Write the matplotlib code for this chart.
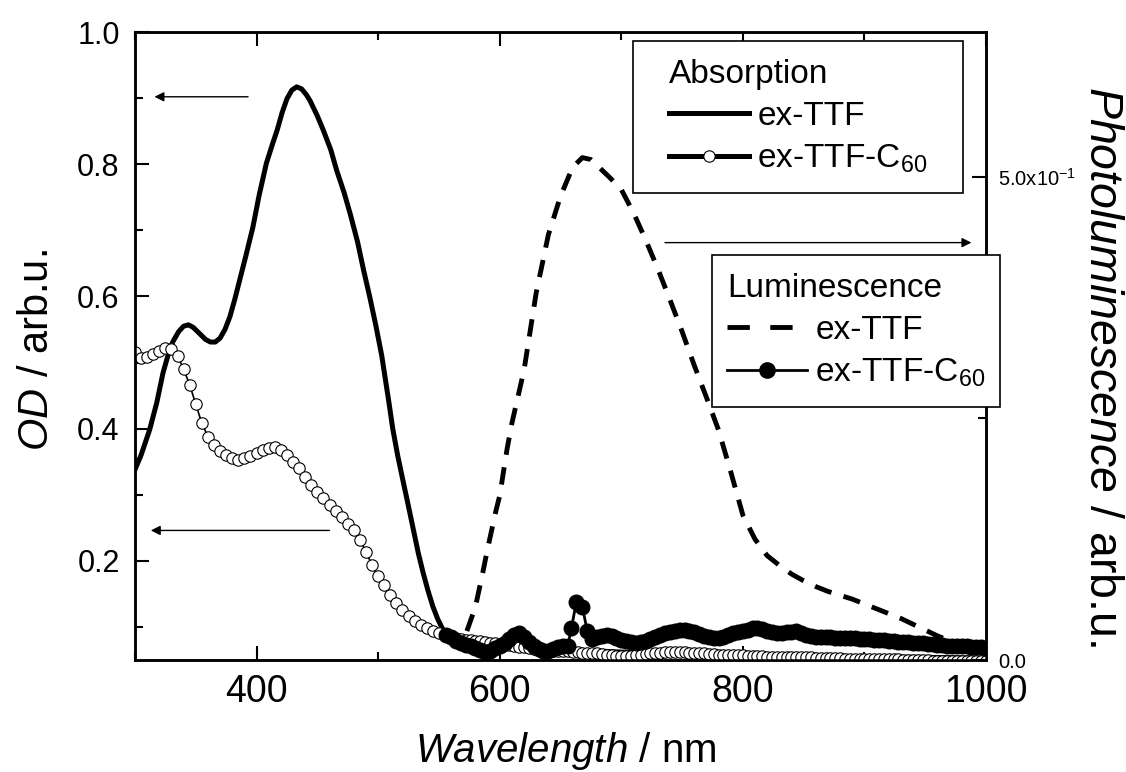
import numpy as np
import matplotlib
matplotlib.use("Agg")
import matplotlib.pyplot as plt
from matplotlib.lines import Line2D
from matplotlib.patches import Rectangle
from matplotlib import font_manager as fm
from matplotlib.ticker import MultipleLocator, FixedLocator, FuncFormatter

# ---- data ----
# absorption, ex-TTF (solid line, left axis)
abs_ttf_wl = [300, 305, 312, 318, 323, 327, 331, 336, 340, 344, 348, 353, 358, 362, 366,
              370, 374, 378, 382, 386, 391, 397, 402, 408, 413, 417, 421, 425, 429, 433,
              437, 441, 444, 450, 455, 461, 466, 472, 477, 483, 488, 493, 498, 503, 506,
              509, 512, 516, 520, 525, 529, 533, 537, 541, 545, 549, 553, 559, 570, 600,
              650, 700, 800, 900, 1000]
abs_ttf_od = [0.338, 0.360, 0.398, 0.440, 0.484, 0.510, 0.531, 0.547, 0.555, 0.557, 0.553,
              0.544, 0.535, 0.531, 0.531, 0.537, 0.550, 0.569, 0.595, 0.624, 0.660, 0.705,
              0.752, 0.801, 0.830, 0.852, 0.878, 0.899, 0.912, 0.917, 0.914, 0.905, 0.896,
              0.873, 0.851, 0.822, 0.790, 0.757, 0.725, 0.683, 0.640, 0.600, 0.557, 0.510,
              0.474, 0.438, 0.400, 0.360, 0.325, 0.282, 0.247, 0.212, 0.182, 0.155, 0.131,
              0.112, 0.097, 0.086, 0.079, 0.072, 0.066, 0.062, 0.058, 0.055, 0.053]

# absorption, ex-TTF-C60 (open circles, left axis)
abs_c60_wl = np.concatenate([np.arange(300, 561, 5), np.arange(564, 1001, 4)])
abs_c60_od = [0.516, 0.507, 0.508, 0.513, 0.518, 0.522, 0.520, 0.510, 0.490, 0.466,
              0.437, 0.408, 0.388, 0.375, 0.366, 0.360, 0.355, 0.353, 0.355, 0.358,
              0.363, 0.368, 0.371, 0.372, 0.368, 0.360, 0.350, 0.340, 0.327, 0.314,
              0.304, 0.295, 0.285, 0.276, 0.267, 0.256, 0.246, 0.232, 0.214, 0.193,
              0.177, 0.163, 0.148, 0.136, 0.125, 0.117, 0.109, 0.103, 0.098, 0.094,
              0.091, 0.088, 0.086,
              0.084, 0.082, 0.081, 0.080, 0.079, 0.078, 0.077, 0.076, 0.075, 0.074,
              0.073, 0.072, 0.071, 0.070, 0.069, 0.068, 0.067, 0.066, 0.066, 0.065,
              0.064, 0.064, 0.063, 0.063, 0.062, 0.062, 0.061, 0.061, 0.060, 0.060,
              0.059, 0.058, 0.057, 0.056, 0.056, 0.056, 0.056, 0.057, 0.058, 0.059,
              0.060, 0.061, 0.061, 0.062, 0.062, 0.062, 0.062, 0.062, 0.061, 0.061,
              0.060, 0.060, 0.059, 0.059, 0.058, 0.058, 0.058, 0.057, 0.057, 0.057,
              0.056, 0.056, 0.056, 0.056, 0.055, 0.055, 0.055, 0.055, 0.055, 0.054,
              0.054, 0.054, 0.054, 0.054, 0.053, 0.053, 0.053, 0.053, 0.053, 0.053,
              0.052, 0.052, 0.052, 0.052, 0.052, 0.052, 0.051, 0.051, 0.051, 0.051,
              0.051, 0.051, 0.050, 0.050, 0.050, 0.050, 0.050, 0.050, 0.049, 0.049,
              0.049, 0.049, 0.049, 0.049, 0.048, 0.048, 0.048, 0.048, 0.048, 0.048]

# luminescence, ex-TTF (dashed, right axis)
pl_ttf_wl = [573, 580, 586, 590, 597, 600, 606, 610, 620, 630, 640, 650, 660, 668, 675,
             680, 690, 700, 710, 720, 730, 740, 750, 760, 770, 780, 790, 800, 810, 820,
             831, 840, 850, 860, 870, 880, 890, 900, 910, 920, 930, 940, 950, 960, 970,
             980, 990, 1000]
pl_ttf = [0.030, 0.055, 0.090, 0.115, 0.155, 0.170, 0.218, 0.245, 0.300, 0.380, 0.440,
          0.480, 0.510, 0.520, 0.518, 0.512, 0.500, 0.487, 0.463, 0.435, 0.405, 0.373,
          0.340, 0.305, 0.272, 0.238, 0.195, 0.150, 0.125, 0.108, 0.097, 0.089, 0.082,
          0.076, 0.071, 0.067, 0.063, 0.058, 0.053, 0.048, 0.043, 0.037, 0.031, 0.025,
          0.020, 0.016, 0.013, 0.011]

# luminescence, ex-TTF-C60 (filled circles, right axis)
pl_c60_wl = [556, 560, 564, 568, 572, 576, 580, 584, 588, 592, 596, 600, 604, 608, 612,
             616, 620, 624, 628, 632, 636, 640, 644, 648, 652, 656, 659, 663, 668, 672,
             676, 680, 684, 688, 692, 696, 700, 704, 708, 712, 716, 720, 724, 728, 732,
             736, 740, 744, 748, 752, 756, 760, 764, 768, 772, 776, 780, 784, 788, 792,
             796, 800, 804, 808, 812, 816, 820, 824, 828, 832, 836, 840, 844, 848, 852,
             856, 860, 864, 868, 872, 876, 880, 884, 888, 892, 896, 900, 904, 908, 912,
             916, 920, 924, 928, 932, 936, 940, 944, 948, 952, 956, 960, 964, 968, 972,
             976, 980, 984, 988, 992, 996, 1000]
pl_c60 = [0.026, 0.024, 0.020, 0.018, 0.016, 0.014, 0.012, 0.010, 0.008, 0.009, 0.012,
          0.014, 0.018, 0.022, 0.026, 0.028, 0.024, 0.019, 0.015, 0.011, 0.009, 0.009,
          0.011, 0.013, 0.014, 0.015, 0.033, 0.060, 0.055, 0.030, 0.022, 0.024, 0.025,
          0.026, 0.025, 0.023, 0.021, 0.020, 0.019, 0.018, 0.019, 0.020, 0.022, 0.024,
          0.026, 0.028, 0.029, 0.030, 0.031, 0.031, 0.030, 0.029, 0.027, 0.025, 0.024,
          0.023, 0.023, 0.024, 0.026, 0.028, 0.029, 0.030, 0.031, 0.033, 0.033, 0.032,
          0.030, 0.029, 0.028, 0.028, 0.029, 0.029, 0.030, 0.028, 0.026, 0.025, 0.024,
          0.024, 0.024, 0.024, 0.023, 0.023, 0.023, 0.023, 0.023, 0.022, 0.022, 0.022,
          0.021, 0.021, 0.021, 0.020, 0.020, 0.019, 0.019, 0.019, 0.018, 0.018, 0.018,
          0.017, 0.017, 0.016, 0.016, 0.015, 0.015, 0.015, 0.014, 0.014, 0.013, 0.013,
          0.013, 0.012]

# arrows: (tail, head) in data units of the axis they point to
arrow_left_top = ((393, 0.902), (316, 0.902))
arrow_left_low = ((460, 0.246), (313, 0.246))
arrow_right = ((736, 0.432), (988, 0.432))

# ---- fonts ----
names = {f.name for f in fm.fontManager.ttflist}
NARROW = "Liberation Sans Narrow" if "Liberation Sans Narrow" in names else "Liberation Sans"
plt.rcParams["font.family"] = ["Liberation Sans", "DejaVu Sans"]
plt.rcParams["mathtext.fontset"] = "custom"
plt.rcParams["mathtext.rm"] = "Liberation Sans"
plt.rcParams["mathtext.it"] = NARROW + ":italic"
plt.rcParams["mathtext.default"] = "regular"

W, H = 1126, 772
fig = plt.figure(figsize=(W / 100, H / 100), dpi=100)
ax = fig.add_axes([135 / W, 1 - 660 / H, (986 - 135) / W, (660 - 32) / H])
ax2 = ax.twinx()

DASH = (0, (3.6, 2.6))
ax.plot(abs_ttf_wl, abs_ttf_od, "-", color="black", lw=3.6, zorder=2)
ax.plot(abs_c60_wl, abs_c60_od, "-", color="black", lw=1.2, marker="o", ms=8.2,
        mfc="white", mec="black", mew=0.8, zorder=3)
ax2.plot(pl_ttf_wl, pl_ttf, color="black", lw=3.5, ls=DASH, zorder=3)
ax2.plot(pl_c60_wl, pl_c60, "-", color="black", lw=2.0, marker="o", ms=10.5,
         mfc="black", mec="black", zorder=4)

ax.set_xlim(300, 1000)
ax.set_ylim(0.05, 1.0)
ax2.set_ylim(0, 0.65)

for a in (ax, ax2):
    for s in a.spines.values():
        s.set_linewidth(1.8)

ax.xaxis.set_major_locator(MultipleLocator(200))
ax.xaxis.set_minor_locator(MultipleLocator(100))
ax.yaxis.set_major_locator(MultipleLocator(0.2))
ax.yaxis.set_minor_locator(MultipleLocator(0.1))
ax.tick_params(which="both", direction="in", top=True, right=False, width=1.5)
ax.tick_params(which="major", length=10)
ax.tick_params(which="minor", length=5.5)
ax.tick_params(axis="x", pad=10, labelsize=27)
ax.tick_params(axis="y", pad=11, labelsize=22)
for lab in ax.get_xticklabels():
    lab.set_family(NARROW)

ax2.yaxis.set_major_locator(FixedLocator([0.0, 0.5]))
ax2.yaxis.set_minor_locator(FixedLocator([0.25]))
ax2.yaxis.set_major_formatter(FuncFormatter(
    lambda v, p: "0.0" if v == 0 else r"5.0x10$^{-1}$"))
ax2.tick_params(which="both", direction="in", width=1.5, pad=9, labelsize=14.5)
ax2.tick_params(which="major", length=10)
ax2.tick_params(which="minor", length=5.5)

# arrows
akw = dict(arrowstyle="-|>", lw=1.0, color="black", mutation_scale=14, shrinkA=0, shrinkB=0)
ax.annotate("", xy=arrow_left_top[1], xytext=arrow_left_top[0], arrowprops=akw)
ax.annotate("", xy=arrow_left_low[1], xytext=arrow_left_low[0], arrowprops=akw)
ax2.annotate("", xy=arrow_right[1], xytext=arrow_right[0], arrowprops=akw,
             annotation_clip=False)

# axis labels
fig.text(566 / W, 1 - 751 / H, r"$\mathit{Wavelength}$ / nm", family=NARROW,
         fontsize=29, ha="center", va="center")
fig.text(37 / W, 1 - 350 / H, r"$\mathit{OD}$ / arb.u.", family=NARROW,
         fontsize=30, ha="center", va="center", rotation=90)
fig.text(1102 / W, 1 - 367 / H, r"$\mathit{Photoluminescence}$ / arb.u.",
         family=NARROW, fontsize=33.5, ha="center", va="center", rotation=-90)

# legend frames (pixel boxes of the reference)
for (x0, y0, x1, y1) in [(633, 41, 963, 193), (712, 255, 1000, 407)]:
    ax2.add_patch(Rectangle((x0 / W, 1 - y1 / H), (x1 - x0) / W, (y1 - y0) / H,
                            transform=fig.transFigure, facecolor="white",
                            edgecolor="black", lw=1.2, clip_on=False, zorder=4.5))

# legends (style proxies)
h_abs = [Line2D([], [], color="black", lw=3.6),
         Line2D([], [], color="black", lw=3.6, marker="o", ms=8.2, mfc="white", mew=0.8)]
h_pl = [Line2D([], [], color="black", lw=3.5, ls=(0, (4.6, 4.2))),
        Line2D([], [], color="black", lw=2.0, marker="o", ms=11, mfc="black")]
lab = ["ex-TTF", r"ex-TTF-C$_{60}$"]

lkw = dict(loc="upper left", fontsize=24, title_fontsize=24, frameon=False,
           handlelength=2.4, handletextpad=0.25, borderpad=0, labelspacing=0.33,
           numpoints=1, borderaxespad=0, alignment="left",
           bbox_transform=fig.transFigure)
leg1 = ax2.legend(h_abs, lab, title="Absorption",
                  bbox_to_anchor=(669 / W, 1 - 59 / H), **lkw)
ax2.add_artist(leg1)
leg2 = ax2.legend(h_pl, lab, title="Luminescence",
                  bbox_to_anchor=(727 / W, 1 - 273 / H), **lkw)

fig.savefig("out.png", dpi=100)
